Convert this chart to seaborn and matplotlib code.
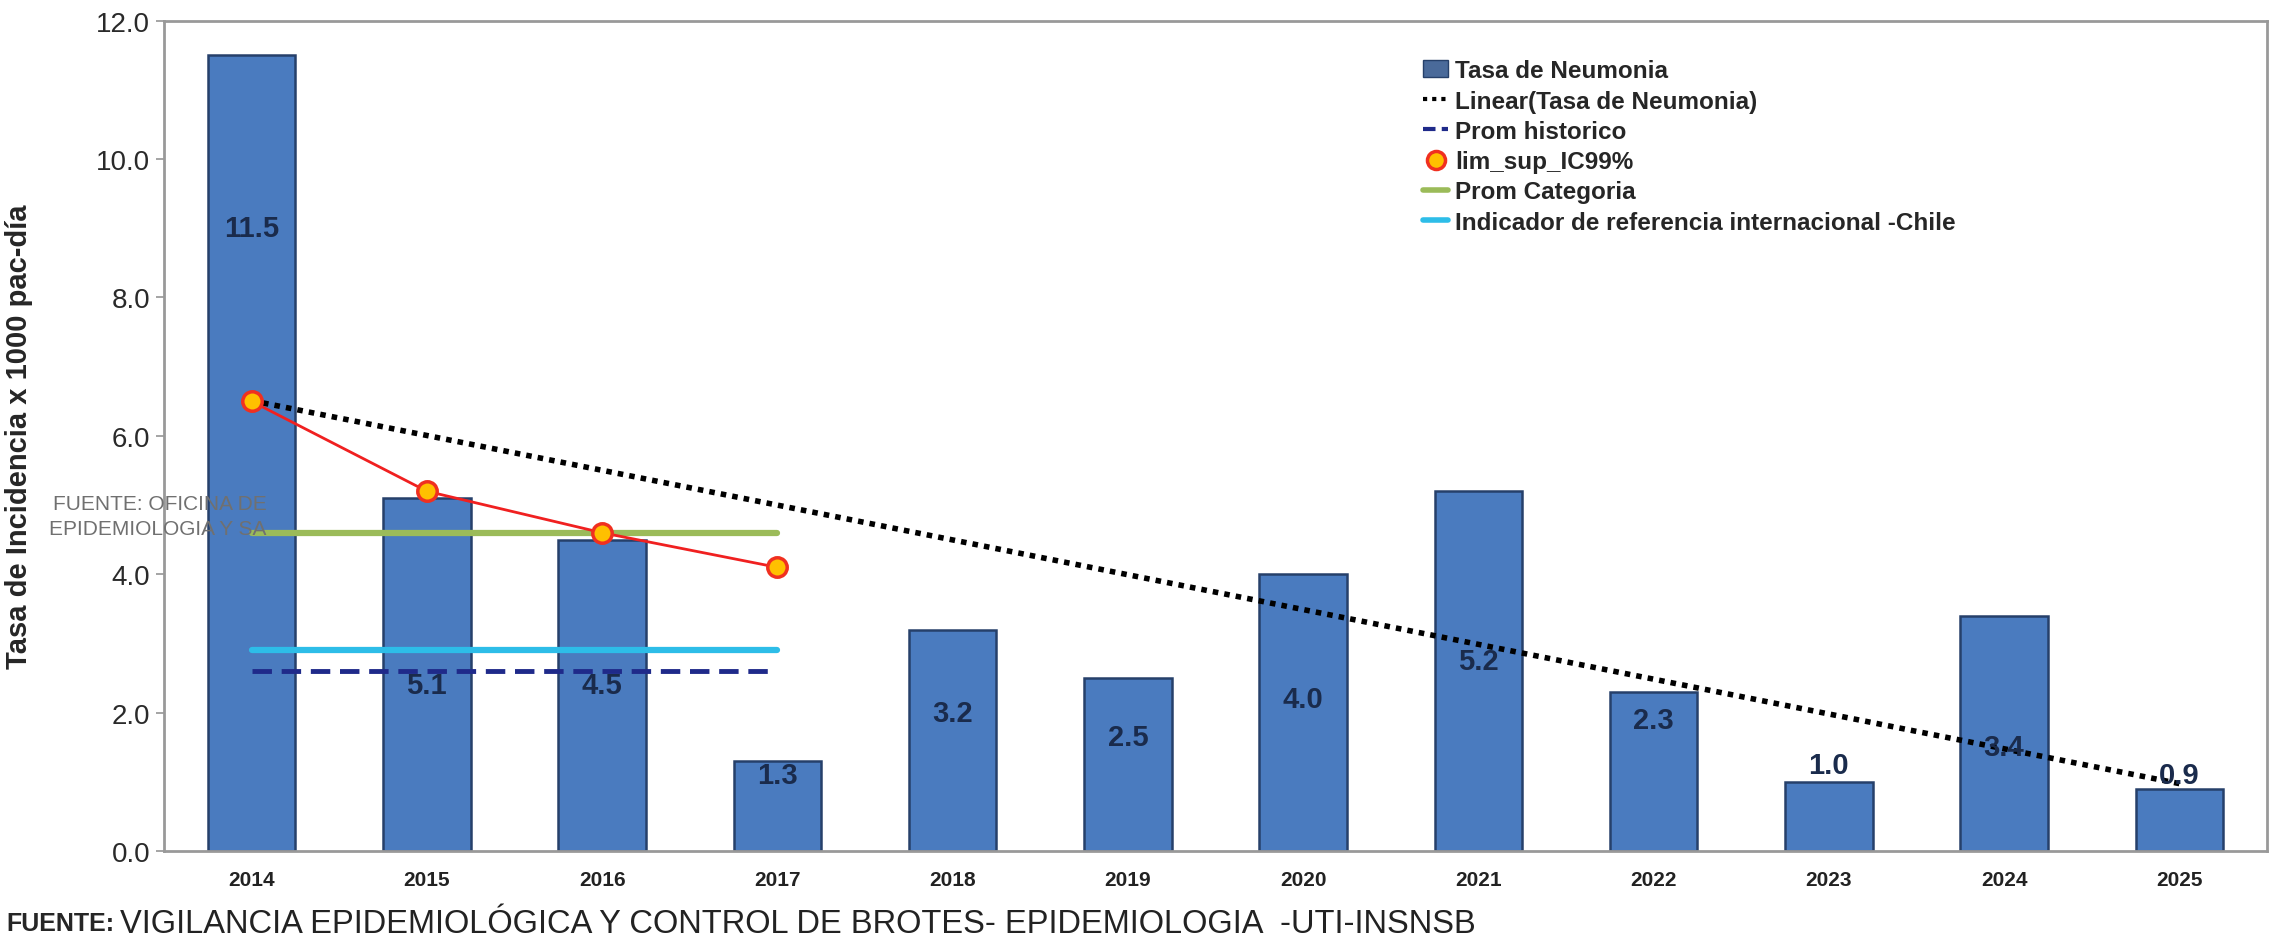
import numpy as np
import pandas as pd
import matplotlib
matplotlib.use("Agg")
import matplotlib.pyplot as plt
import seaborn as sns
from matplotlib import font_manager
from matplotlib.lines import Line2D
from matplotlib.patches import Patch

# data
years = ["2014", "2015", "2016", "2017", "2018", "2019", "2020", "2021", "2022", "2023", "2024", "2025"]
tasa = [11.5, 5.1, 4.5, 1.3, 3.2, 2.5, 4.0, 5.2, 2.3, 1.0, 3.4, 0.9]
label_y = [9.0, 2.4, 2.4, 1.1, 2.0, 1.65, 2.2, 2.75, 1.9, 1.25, 1.5, 1.1]  # where the data labels sit
ic_years = ["2014", "2015", "2016", "2017"]
lim_sup_ic99 = [6.5, 5.2, 4.6, 4.1]
prom_historico = 2.6
prom_categoria = 4.6
indicador_chile = 2.9

names = {f.name for f in font_manager.fontManager.ttflist}
narrow = "Liberation Sans Narrow" if "Liberation Sans Narrow" in names else "Liberation Sans"

sns.set_theme(style="white")
plt.rcParams["font.family"] = ["Liberation Sans", "DejaVu Sans"]

df = pd.DataFrame({"year": years, "tasa": tasa, "pos": np.arange(len(years))})

fig = plt.figure(figsize=(22.77, 9.45), dpi=100)
ax = fig.add_axes([0.072, 0.0984, 0.9236, 0.8786])

sns.barplot(data=df, x="year", y="tasa", color="#4a7bbf", saturation=1, width=0.5,
            edgecolor="#26406a", linewidth=1.8, ax=ax, zorder=2)

# trend line (least squares over all years)
sns.regplot(data=df, x="pos", y="tasa", scatter=False, ci=None, truncate=True, ax=ax,
            line_kws=dict(color="black", ls=(0, (1, 1.1)), lw=4, zorder=4))

idx = [years.index(y) for y in ic_years]
x0, x1 = idx[0], idx[-1]
ax.plot([x0, x1], [prom_categoria] * 2, color="#9bbb59", lw=4.5, zorder=3)
ax.plot([x0, x1], [indicador_chile] * 2, color="#2dbde8", lw=4.5, zorder=3)
ax.plot([x0, x1], [prom_historico] * 2, color="#1f2a8a", lw=3.5, ls=(0, (4, 2)), zorder=3)
sns.lineplot(x=idx, y=lim_sup_ic99, color="#f02020", lw=2, ax=ax, zorder=5,
             marker="o", markersize=14, markerfacecolor="#ffc000",
             markeredgecolor="#f03020", markeredgewidth=2.5)

for i, (v, ly) in enumerate(zip(tasa, label_y)):
    ax.text(i, ly, f"{v:.1f}", ha="center", va="center", fontsize=21, fontweight="bold",
            color="#1a2b4c", family=narrow, zorder=6)

ax.set_ylim(0, 12)
ax.set_xlim(-0.45, 11.5)
ax.set_yticks(np.arange(0, 12.1, 2))
ax.set_yticklabels([f"{t:.1f}" for t in np.arange(0, 12.1, 2)], family=narrow,
                   fontsize=20, color="#2a2a2a")
ax.set_xticks(range(len(years)))
ax.set_xticklabels(years, fontweight="bold", fontsize=15, color="#222222", family=narrow)
ax.set_xticks(np.arange(-0.5, 11.6, 1), minor=True)
ax.tick_params(axis="x", which="major", length=0, pad=14)
ax.tick_params(axis="x", which="minor", length=8, color="#999999")
ax.tick_params(axis="y", which="major", length=6, color="#999999", left=True, pad=4)
ax.set_xlabel("")
ax.set_ylabel("Tasa de Incidencia x 1000 pac-día", fontsize=21, fontweight="bold")
ax.yaxis.set_label_coords(-0.0625, 0.5)
for s in ax.spines.values():
    s.set_color("#999999")
    s.set_linewidth(2)

handles = [
    Patch(facecolor="#4a6a9a", edgecolor="#26406a"),
    Line2D([], [], color="black", ls=(0, (1, 1.2)), lw=3),
    Line2D([], [], color="#1f2a8a", ls=(0, (3, 1.5)), lw=3),
    Line2D([], [], color="#f02020", lw=0, marker="o", markersize=13,
           markerfacecolor="#ffc000", markeredgecolor="#f03020", markeredgewidth=2.5),
    Line2D([], [], color="#9bbb59", lw=4),
    Line2D([], [], color="#2dbde8", lw=4),
]
labels = ["Tasa de Neumonia", "Linear(Tasa de Neumonia)", "Prom historico", "lim_sup_IC99%",
          "Prom Categoria", "Indicador de referencia internacional -Chile"]
ax.legend(handles, labels, loc="upper left", bbox_to_anchor=(0.5885, 0.98), frameon=False,
          handlelength=1.0, handletextpad=0.3, labelspacing=0.3,
          prop=dict(size=17.5, weight="bold"))

fig.text(0.117, 0.453, "FUENTE: OFICINA DE\nEPIDEMIOLOGIA Y SA", ha="right", va="center",
         fontsize=15, color="#707070", family=narrow, linespacing=1.35, zorder=10)

t1 = fig.text(0.003, 0.022, "FUENTE:", fontsize=18, fontweight="bold", family=narrow, va="center")
fig.canvas.draw()
bb = t1.get_window_extent().transformed(fig.transFigure.inverted())
fig.text(bb.x1 + 0.002, 0.022,
         "VIGILANCIA EPIDEMIOLÓGICA Y CONTROL DE BROTES- EPIDEMIOLOGIA  -UTI-INSNSB",
         fontsize=23.5, family=narrow, va="center", color="#222222")

fig.savefig("out.png", dpi=100)
